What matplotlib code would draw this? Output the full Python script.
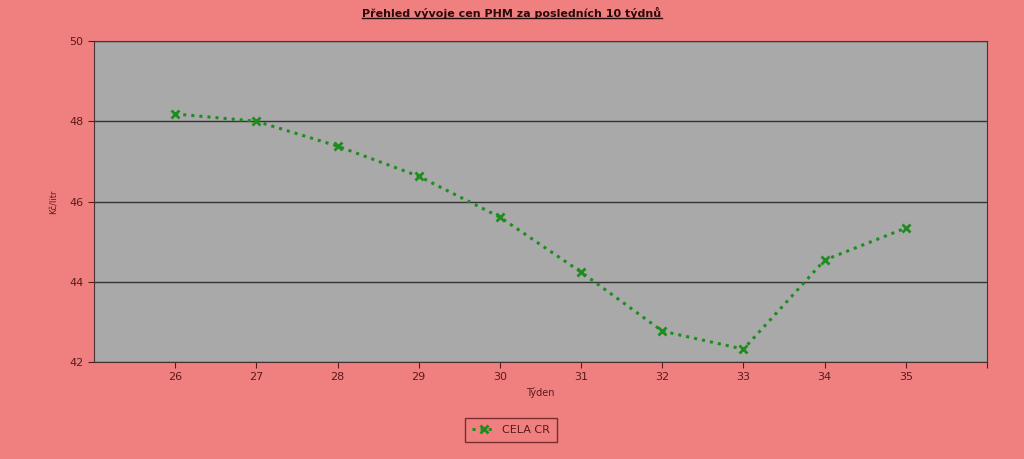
import matplotlib.pyplot as plt

weeks = [26, 27, 28, 29, 30, 31, 32, 33, 34, 35]
prices = [48.18, 48.0, 47.38, 46.63, 45.61, 44.24, 42.77, 42.32, 44.54, 45.34]

bg = '#f08080'
txt = '#5a1a1a'

fig = plt.figure(figsize=(10.24, 4.59), dpi=100)
fig.patch.set_facecolor(bg)
ax = fig.add_axes([0.0918, 0.2113, 0.8721, 0.6994])
ax.set_facecolor('#a9a9a9')

ax.plot(weeks, prices, linestyle=':', color='#1e8c1e', linewidth=2.2,
        marker='x', markersize=5.5, markeredgewidth=2.0, label='CELA CR')

ax.set_xlim(25, 36)
ax.set_ylim(42, 50)
ax.set_xticks(weeks + [36])
ax.set_xticklabels([str(w) for w in weeks] + [''])
ax.set_yticks([42, 44, 46, 48, 50])
ax.yaxis.grid(True, color='#333333', linewidth=1)
ax.set_axisbelow(True)
ax.tick_params(colors=txt, labelsize=8, length=4, direction='out')
for s in ax.spines.values():
    s.set_color('#4a3030')

ax.set_xlabel('Týden', fontsize=7, color=txt, labelpad=3)
ax.set_ylabel('Kč/litr', fontsize=6, color=txt, labelpad=8)

t = fig.text(0.5, 0.972, 'Přehled vývoje cen PHM za posledních 10 týdnů',
             ha='center', va='center', fontsize=8, fontweight='bold',
             color='#2a0a0a')
# underline matched to text width
fig.canvas.draw()
bb = t.get_window_extent().transformed(fig.transFigure.inverted())
fig.add_artist(plt.Line2D([bb.x0, bb.x1], [bb.y0 + 0.002, bb.y0 + 0.002],
                          color='#2a0a0a', linewidth=1,
                          transform=fig.transFigure))

leg = fig.legend(loc='center', bbox_to_anchor=(0.499, 0.063), fontsize=8,
                 frameon=True, fancybox=False, handlelength=2.2,
                 handletextpad=0.5, borderpad=0.6)
leg.get_frame().set_facecolor(bg)
leg.get_frame().set_edgecolor('#5a1a1a')
for tx in leg.get_texts():
    tx.set_color(txt)

fig.savefig('out.png', dpi=100, facecolor=bg)
